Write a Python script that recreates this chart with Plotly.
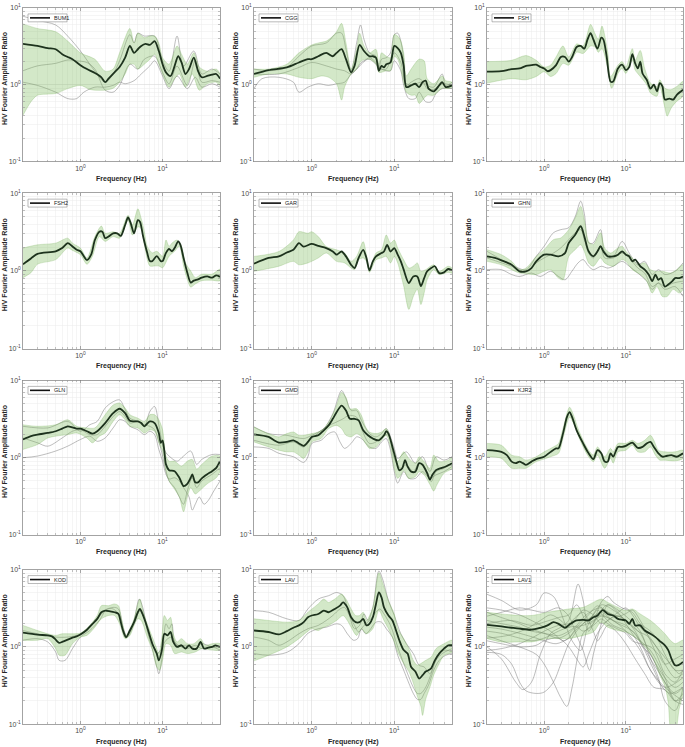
import math
import plotly.graph_objects as go

STATIONS = ["BUM1", "CGG", "FSH", "FSH2", "GAR", "GHN", "GLN", "GMD", "KJR2", "KOD", "LAV", "LAV1"]

X_MAJOR = [1, 10]
X_MAJOR_TEXT = ["10<sup>0</sup>", "10<sup>1</sup>"]
Y_MAJOR = [0.1, 1, 10]
Y_MAJOR_TEXT = ["10<sup>-1</sup>", "10<sup>0</sup>", "10<sup>1</sup>"]
X_MINOR = [0.2, 0.3, 0.4, 0.5, 0.6, 0.7, 0.8, 0.9, 2, 3, 4, 5, 6, 7, 8, 9, 20, 30, 40, 50]
Y_MINOR = [0.2, 0.3, 0.4, 0.5, 0.6, 0.7, 0.8, 0.9, 2, 3, 4, 5, 6, 7, 8, 9]

# ---------------- BUM1 ----------------
BUM1_F = [0.2,0.3,0.4,0.5,0.6,0.7,0.8,1.0,1.2,1.5,1.8,2.0,2.2,2.6,3.0,3.5,4.0,4.5,5.0,5.5,6.2,7.0,8.0,9.0,10,11,12.5,14,15.5,17,19,21,24,27,30,35,40,45,50]
BUM1_MEAN = [3.4,3.2,3.0,2.9,2.5,2.3,2.15,1.8,1.6,1.42,1.25,1.08,1.2,1.45,1.7,2.25,3.2,2.6,2.9,3.2,3.4,3.3,3.7,2.75,1.85,1.45,1.3,1.75,2.35,1.95,1.38,1.6,2.25,1.52,1.25,1.3,1.35,1.38,1.2]
BUM1_HI_F = [0.2,0.3,0.5,0.7,1.0,1.5,2.0,2.5,3,4,4.5,5,6,7,8,9,10,12,15,17,20,24,28,35,45,50]
BUM1_HI = [6.2,5.4,4.9,3.7,2.6,2.15,1.5,1.6,2.6,5.4,3.5,4.7,4.1,4.3,4.3,3.5,2.25,1.85,3.2,2.5,1.85,2.6,1.7,1.5,1.6,1.38]
BUM1_LO_F = [0.2,0.25,0.3,0.5,0.7,1.0,1.3,1.5,2.0,2.5,3,3.5,4,4.5,5,6,7,8,9,10,12,14,16,19,23,28,35,45,50]
BUM1_LO = [0.4,0.6,0.73,0.77,0.89,0.98,0.87,0.85,0.85,0.9,1.08,1.38,1.85,1.85,1.6,1.85,2.15,2.5,1.85,1.38,0.93,1.2,1.38,0.93,1.38,0.85,1.03,1.08,0.98]
BUM1_GREY_F = [
    [0.2,0.3,0.5,0.7,1.0,1.5,2,2.5,3,4,4.5,5,6,8,10,12,15,18,24,30,40,50],
    [0.2,0.3,0.5,0.7,0.9,1.2,1.5,2,2.5,3,4,5,6,8,10,12,15,20,25,30,40,50],
    [0.2,0.3,0.5,0.7,0.9,1.1,1.5,2,2.5,3,3.5,4.5,5.5,7,8,10,12,15,20,25,30,40,50],
]
BUM1_GREY_V = [
    [7.8,6.9,6.0,4.3,2.75,1.5,1.08,1.38,2.05,4.5,3.5,4.7,4.3,4.3,2.05,1.5,4.3,1.75,2.75,1.38,1.6,1.38],
    [1.52,1.76,1.9,2.1,2.05,1.95,1.6,0.85,0.8,0.98,1.85,1.6,2.15,2.35,1.45,1.03,1.75,0.98,2.05,1.08,1.13,1.08],
    [1.08,0.98,0.8,0.66,0.66,0.8,0.93,0.93,0.98,1.08,1.03,1.13,1.38,1.76,2.05,1.3,0.89,1.3,0.89,1.25,0.93,1.03,0.93],
]

# ---------------- CGG ----------------
CGG_F = [0.2,0.3,0.5,0.7,0.9,1.0,1.2,1.5,1.8,2.0,2.3,2.6,3.0,3.3,3.8,4.3,5,5.5,6,6.5,7,7.5,8,9,10,11,12,13,14,16,18,20,22,24,26,30,35,38,42,50]
CGG_MEAN = [1.38,1.55,1.68,1.95,2.15,2.15,2.35,2.6,2.35,2.6,2.9,2.15,1.45,1.76,3.3,2.75,2.35,2.35,2.25,1.52,1.76,1.68,1.85,1.95,3.2,3.0,2.6,1.76,0.93,0.98,1.03,0.93,1.08,1.13,0.89,0.82,0.98,1.08,0.93,0.98]
CGG_HI_F = [0.2,0.3,0.5,0.7,1.0,1.2,1.5,1.8,2.0,2.3,2.6,3,3.5,3.8,4.3,5,6,6.5,7,8,9,10,11,12,13,14,16,20,23,25,30,38,42,50]
CGG_HI = [1.6,1.6,1.85,2.6,3.3,3.5,3.7,4.3,4.9,6.3,3.5,1.6,2.9,4.7,3.2,2.6,2.9,1.85,2.6,2.35,2.25,4.5,4.3,3.7,2.6,1.3,1.6,2.15,2.05,1.2,1.03,1.3,1.13,1.08]
CGG_LO_F = [0.2,0.3,0.5,0.7,1.0,1.3,1.6,2.0,2.3,2.5,3,3.5,4,5,6,6.5,7,8,9,10,11,12,13,14,16,18,20,22,25,30,38,45,50]
CGG_LO = [1.25,1.38,1.38,1.25,1.2,1.3,1.25,1.03,0.63,0.93,1.38,1.6,2.05,2.15,1.85,1.45,1.45,1.52,1.52,2.35,2.15,1.6,1.08,0.8,0.73,0.73,0.57,0.63,0.73,0.73,0.9,0.89,0.93]
CGG_GREY_F = [
    [0.2,0.3,0.5,0.7,1.0,1.5,2,2.3,2.6,3,3.5,3.9,4.3,5,6,6.5,7,8,9,10,11,12,13,14,16,20,25,30,38,42,50],
    [0.2,0.4,0.7,1.0,1.5,2.0,2.5,3,3.5,4,5,6,7,8,10,12,14,18,22,25,30,38,50],
    [0.2,0.25,0.4,0.6,0.7,0.9,1.2,1.6,2.0,2.5,3,3.5,4,5,6,7,8,9,10,12,13,15,18,20,24,28,32,38,50],
]
CGG_GREY_V = [
    [1.6,1.52,1.68,2.35,3.2,3.5,4.7,4.7,2.9,1.52,3.5,6.0,3.9,2.6,2.35,1.6,2.15,2.25,2.6,4.5,4.7,3.7,2.15,0.98,1.08,1.2,0.98,0.93,1.38,0.98,1.08],
    [1.38,1.38,1.68,1.95,1.76,1.6,1.52,1.38,1.6,1.95,2.15,1.85,1.6,1.6,2.6,1.95,1.03,1.03,1.08,0.89,0.87,1.03,0.98],
    [0.89,1.2,1.25,1.08,0.8,0.93,1.03,0.98,1.03,1.08,1.38,1.6,1.85,2.25,1.95,1.6,1.52,1.52,2.05,1.52,0.98,0.66,0.66,0.8,0.6,0.6,0.77,0.89,0.89],
]

# ---------------- FSH ----------------
FSH_F = [0.2,0.3,0.4,0.5,0.6,0.7,0.8,0.9,1.0,1.1,1.2,1.4,1.6,1.8,2.0,2.2,2.5,2.8,3.1,3.4,3.7,4.0,4.5,5.0,5.3,5.8,6.5,7,8,9,10,11,12,13,14,15,16,18,20,22,24,26,28,30,34,38,42,50]
FSH_MEAN = [1.48,1.5,1.6,1.63,1.76,1.8,1.83,1.7,1.63,1.5,1.55,1.8,2.3,2.3,2.0,2.3,3.1,3.2,2.95,3.9,4.7,3.9,2.95,4.1,3.9,2.4,1.1,1.1,1.63,1.83,1.55,1.7,2.5,1.9,1.63,2.0,1.4,1.16,0.89,1.0,0.82,1.05,0.95,0.64,0.66,0.64,0.74,0.86]
FSH_HI_F = [0.2,0.4,0.6,0.8,1.0,1.2,1.4,1.7,2.0,2.5,3,3.7,4.2,4.6,5.1,6,6.5,8,9,10,12,13,15,17,20,24,26,30,35,42,50]
FSH_HI = [2.0,2.08,2.4,2.08,1.7,1.8,2.3,3.2,2.3,3.4,3.2,6.1,4.6,3.9,5.8,2.65,1.28,1.8,2.0,1.7,2.95,2.08,2.8,1.63,1.05,0.95,1.16,0.9,0.86,0.95,1.1]
FSH_LO_F = [0.2,0.4,0.6,0.8,1.0,1.2,1.4,1.7,2.0,2.5,3.0,3.7,4.2,4.6,5.1,6,6.7,8,9,10,12,13,15,18,20,24,26,30,32,36,42,50]
FSH_LO = [1.05,1.2,1.16,1.28,1.48,1.28,1.4,1.9,1.8,2.65,2.55,3.2,3.1,2.65,2.95,1.63,0.9,1.4,1.63,1.4,2.08,1.55,1.28,1.0,0.78,0.71,0.95,0.5,0.39,0.5,0.61,0.71]
FSH_GREY_F = []
FSH_GREY_V = []

# ---------------- FSH2 ----------------
FSH2_F = [0.2,0.25,0.3,0.5,0.6,0.7,0.8,0.9,1.0,1.1,1.2,1.35,1.5,1.7,1.85,2.0,2.2,2.5,2.8,3.1,3.5,3.8,4.1,4.5,5.0,5.3,5.8,6.5,7,7.5,8.5,9.5,10,11,12,13,14,15.5,16.5,18,20,22,24,27,30,35,40,45,50]
FSH2_MEAN = [1.22,1.45,1.66,1.79,1.97,2.28,2.07,1.88,1.79,1.55,1.38,1.62,2.5,3.2,3.2,2.64,2.77,3.05,3.05,2.83,3.9,4.87,4.1,3.05,4.5,4.3,2.77,1.71,1.34,1.34,1.55,1.34,1.34,1.71,1.92,1.79,1.97,2.4,2.17,1.47,0.95,0.71,0.75,0.78,0.82,0.85,0.82,0.88,0.84]
FSH2_HI_F = [0.2,0.3,0.5,0.7,0.8,1.0,1.2,1.5,1.8,2.0,2.5,3,3.8,4.3,5,5.5,6,6.5,7.5,8.5,10,11,12,13,15,17,19,22,25,30,40,50]
FSH2_HI = [1.97,2.17,2.28,2.64,2.28,1.97,1.47,2.77,3.78,3.05,3.2,3.05,5.2,3.9,6.3,4.7,3.2,2.07,1.71,1.79,1.55,2.5,2.07,2.28,2.5,2.07,1.27,1.0,0.82,0.91,0.91,1.05]
FSH2_LO_F = [0.2,0.25,0.3,0.5,0.7,0.8,1.0,1.2,1.4,1.7,2.0,2.5,3,3.8,4.3,5,5.5,6,7,8,9,10,12,14,16,18,20,22,25,30,40,50]
FSH2_LO = [0.82,0.95,1.22,1.4,1.97,1.84,1.62,1.22,1.55,2.77,2.4,2.77,2.64,4.5,2.9,3.7,3.5,2.17,1.16,1.16,1.16,1.1,1.55,1.79,2.07,1.16,0.78,0.62,0.68,0.75,0.76,0.75]
FSH2_GREY_F = []
FSH2_GREY_V = []

# ---------------- GAR ----------------
GAR_F = [0.2,0.3,0.4,0.5,0.6,0.7,0.8,1.0,1.2,1.5,1.8,2,2.3,2.6,3.0,3.3,3.7,4.2,4.6,5.0,5.5,6,7,7.5,8.2,9,10,11,12,13,15,17,19,21,23,25,28,31,35,40,45,50]
GAR_MEAN = [1.24,1.47,1.54,1.73,1.87,2.28,2.06,2.23,2.1,1.97,1.78,1.62,1.78,1.54,1.2,1.09,1.47,1.87,1.47,1.02,1.33,1.54,1.7,1.78,2.17,1.78,1.97,1.62,1.33,1.04,0.7,0.85,0.85,0.64,0.81,0.99,1.09,1.15,0.94,0.96,1.06,1.02]
GAR_HI_F = [0.2,0.4,0.6,0.7,0.9,1.0,1.2,1.5,2,2.5,3,3.5,4.2,4.6,5,6,7,8,9,10,11,13,15,17,19,21,24,30,35,45,50]
GAR_HI = [1.54,1.78,2.5,3.2,3.05,3.2,2.77,2.06,1.87,1.7,1.33,1.54,2.39,1.62,1.09,1.7,1.87,2.9,2.28,2.5,1.97,1.39,1.09,1.15,1.27,0.99,1.04,1.2,0.99,1.15,1.09]
GAR_LO_F = [0.2,0.4,0.6,0.7,0.9,1.0,1.2,1.5,2,2.5,3,3.3,3.7,4.2,4.6,5,6,7,8,9,10,11,12,13,15,17,19,21,23,25,30,35,45,50]
GAR_LO = [0.99,1.15,1.33,1.2,1.27,1.33,1.47,1.7,1.33,1.27,1.09,1.04,1.39,1.47,1.33,0.96,1.39,1.47,1.54,1.27,1.54,1.27,0.9,0.64,0.32,0.47,0.58,0.37,0.52,0.77,1.04,0.9,0.96,0.94]
GAR_GREY_F = []
GAR_GREY_V = []

# ---------------- GHN ----------------
GHN_F = [0.2,0.25,0.3,0.4,0.5,0.6,0.7,0.8,1.0,1.2,1.5,1.8,2.0,2.4,2.8,3.1,3.5,4,4.5,4.9,5.3,6,7,8,9,10,11,12,13,15,17,19,21,23,25,27,30,33,37,40,45,50]
GHN_MEAN = [1.54,1.47,1.37,1.2,0.99,0.99,1.09,1.33,1.62,1.62,1.54,1.7,2.29,2.93,3.76,2.8,1.79,1.54,1.79,2.08,1.79,1.54,1.54,1.62,1.79,1.62,1.54,1.33,1.4,1.15,1.04,0.9,0.74,0.9,0.77,0.81,0.63,0.67,0.74,0.81,0.81,0.85]
GHN_HI_F = [0.2,0.3,0.4,0.5,0.6,0.8,1.0,1.3,1.6,2,2.4,2.8,3.1,3.5,4,4.9,5.5,6.5,8,9,10,12,14,17,20,23,28,35,42,50]
GHN_HI = [1.88,1.62,1.33,1.04,1.09,1.54,1.88,2.53,2.66,3.4,4.8,6.8,4.58,2.4,2.18,3.1,1.98,1.7,1.98,2.08,1.79,1.47,1.2,1.27,1.04,0.99,0.99,0.94,1.04,1.2]
GHN_LO_F = [0.2,0.3,0.4,0.5,0.6,0.8,1.0,1.2,1.5,1.7,2,2.4,2.8,3.1,3.5,4,4.9,5.5,7,9,10,12,15,18,21,24,28,32,38,45,50]
GHN_LO = [1.33,1.2,1.04,0.94,0.92,0.9,0.99,1.04,0.81,0.77,1.54,1.88,2.18,1.79,1.27,1.15,1.47,1.27,1.15,1.4,1.33,1.04,0.9,0.74,0.52,0.63,0.47,0.47,0.58,0.52,0.58]
GHN_GREY_F = [
    [0.2,0.4,0.6,0.8,1.0,1.3,1.6,2,2.4,2.8,3.1,3.5,4,4.9,5.5,7,9,11,14,17,21,25,30,40,50],
    [0.2,0.4,0.6,0.8,1.0,1.3,1.6,2,2.4,2.8,3.1,3.5,4,4.9,5.5,7,9,11,14,17,21,25,30,40,50],
    [0.2,0.3,0.4,0.5,0.7,0.9,1.2,1.5,1.8,2.2,2.6,3,3.5,4,5,6,7,9,11,14,18,21,25,30,38,50],
]
GHN_GREY_V = [
    [1.79,1.2,1.04,1.54,2.08,3.1,3.4,3.6,5.0,7.9,5.5,2.29,2.29,3.4,1.79,1.54,2.4,1.7,1.2,1.33,0.9,1.04,0.9,0.99,1.27],
    [1.47,1.15,0.99,1.27,1.47,1.7,1.98,2.53,3.1,3.4,2.53,1.7,1.47,2.08,1.47,1.47,1.7,1.47,1.09,0.94,0.63,0.7,0.58,0.63,0.47],
    [1.04,1.04,0.9,0.85,0.94,0.85,0.99,0.85,0.77,1.0,1.27,1.4,1.15,1.04,1.15,1.09,1.15,1.33,1.15,0.94,0.74,0.58,0.7,0.63,0.7,0.74],
]

# ---------------- GLN ----------------
GLN_F = [0.2,0.25,0.3,0.4,0.5,0.6,0.7,0.8,0.9,1.0,1.2,1.4,1.6,2.0,2.5,3.0,3.5,4,4.5,5,5.5,6,7,8,9,9.5,10,10.5,11,12,14,16,18,20,22,23,25,27,30,35,40,45,50]
GLN_MEAN = [1.72,1.9,1.99,2.09,2.2,2.38,2.55,2.47,2.38,2.38,2.2,2.05,2.2,2.81,3.77,4.3,3.77,3.0,2.95,2.95,2.81,2.55,2.95,2.81,2.09,1.56,1.67,1.22,0.82,0.69,0.67,0.55,0.43,0.46,0.55,0.61,0.48,0.48,0.54,0.61,0.67,0.74,0.9]
GLN_HI_F = [0.2,0.3,0.5,0.7,0.9,1.2,1.5,2,2.5,3,3.5,4,5,6,7,8,9,10,11,12,14,17,20,23,26,30,35,40,50]
GLN_HI = [2.67,2.55,2.67,3.1,2.55,2.43,2.43,3.6,4.8,5.1,4.4,3.6,3.25,2.95,3.6,3.6,3.1,2.3,1.05,0.9,0.9,0.78,0.9,0.95,0.71,0.82,0.95,1.05,1.05]
GLN_LO_F = [0.2,0.3,0.4,0.5,0.7,0.9,1.2,1.4,1.7,2,2.5,3,3.5,4,5,6,7,8,9,10,11,12,14,16,18,20,22,25,28,35,45,50]
GLN_LO = [1.28,1.48,1.8,1.9,1.99,2.09,1.8,1.56,1.9,2.09,2.95,3.6,3.1,2.55,2.43,2.09,2.3,2.2,1.56,1.22,0.67,0.5,0.39,0.31,0.2,0.31,0.41,0.34,0.37,0.46,0.55,0.67]
GLN_GREY_F = [
    [0.2,0.4,0.7,1.0,1.3,1.6,2,2.5,3,3.5,4,5,6,7,8,9,10,11,12,15,18,22,26,30,40,50],
    [0.2,0.3,0.4,0.6,0.8,1,1.3,1.6,2,2.5,3,3.5,4,5,6,7,8,9,10,11,12,14,16,18,20,23,26,30,40,50],
    [0.2,0.3,0.5,0.7,1.0,1.3,1.6,2,2.5,3,3.5,4,5,6,7,8,9,10,11,12,14,16,18,21,23,25,28,32,36,42,50],
]
GLN_GREY_V = [
    [2.55,2.43,2.95,2.2,2.67,2.95,4.4,5.3,5.6,4.2,3.25,2.95,2.55,3.97,4.6,2.67,1.48,1.16,1.05,0.9,1.05,1.22,0.82,0.95,1.1,1.1],
    [1.8,1.56,1.41,1.8,2.2,2.3,1.99,1.99,2.55,3.4,3.97,3.4,2.81,2.95,2.67,2.55,2.3,1.63,1.05,0.67,0.5,0.41,0.31,0.25,0.37,0.55,0.41,0.5,0.61,0.74],
    [1.0,1.05,1.22,1.41,1.72,1.9,1.63,1.8,2.43,3.1,2.95,2.55,2.3,1.99,2.2,1.99,1.28,0.9,0.61,0.53,0.55,0.5,0.41,0.31,0.21,0.25,0.31,0.25,0.28,0.37,0.5],
]

# ---------------- GMD ----------------
GMD_F = [0.2,0.3,0.35,0.4,0.5,0.6,0.7,0.8,0.9,1.0,1.2,1.4,1.6,1.8,2.0,2.3,2.6,2.9,3.3,3.7,4.2,4.8,5.5,6.5,7.5,8,8.5,9.5,10.5,11.5,12.5,13.5,14.5,16,18,20,22,25,27,29,32,36,42,50]
GMD_MEAN = [2.01,1.86,1.68,1.57,1.6,1.68,1.53,1.42,1.6,1.86,1.95,2.26,2.62,3.19,3.88,4.73,4.08,3.19,3.19,3.04,2.26,1.95,1.77,1.68,1.95,2.2,2.05,1.38,0.93,0.69,0.73,0.93,0.77,0.66,0.66,0.85,0.81,0.63,0.52,0.6,0.69,0.73,0.77,0.85]
GMD_HI_F = [0.2,0.3,0.4,0.5,0.6,0.7,0.8,1.0,1.2,1.4,1.7,2.0,2.3,2.6,2.9,3.5,4,4.5,5,6,7,8,9,10,11,13,15,18,20,23,27,30,35,45,50]
GMD_HI = [2.5,2.05,1.86,2.05,2.15,1.95,1.95,2.05,2.15,2.38,3.19,4.73,7.0,6.05,4.3,4.3,3.52,2.5,2.15,2.05,2.15,2.38,1.77,1.19,0.89,1.19,0.98,0.85,1.03,0.89,0.73,1.08,0.89,0.93,1.0]
GMD_LO_F = [0.2,0.3,0.4,0.5,0.6,0.7,0.8,0.9,1.0,1.3,1.6,2,2.3,2.6,3,3.5,4,4.5,5,6,7,8,9,10,11,12,13,15,18,20,23,27,30,33,40,50]
GMD_LO = [1.6,1.38,1.25,1.19,1.19,1.08,0.98,1.19,1.6,1.77,2.38,2.62,2.38,1.95,1.86,2.05,1.86,1.53,1.32,1.38,1.68,1.95,1.38,0.73,0.54,0.6,0.69,0.54,0.57,0.66,0.6,0.45,0.37,0.45,0.63,0.73]
GMD_GREY_F = [
    [0.2,0.3,0.5,0.8,1.0,1.4,1.8,2.3,2.6,3,3.5,4,5,6,7,8,10,11,14,18,22,27,32,40,50],
    [0.2,0.4,0.6,0.8,1.0,1.5,2,2.4,2.8,3.5,4,5,6,7.5,8.5,10,12,14,17,20,25,28,32,40,50],
    [0.2,0.3,0.4,0.6,0.8,0.9,1.0,1.3,1.6,1.9,2.2,2.5,3,3.5,4,5,6,7,8,9,10,11,13,15,18,22,27,32,40,50],
]
GMD_GREY_V = [
    [2.5,2.05,1.95,1.77,1.95,2.38,3.7,7.4,5.8,4.1,4.1,3.04,2.05,1.86,2.05,2.38,1.32,0.98,1.19,0.85,1.03,0.66,1.03,0.93,1.03],
    [1.68,1.45,1.6,1.38,1.77,2.5,2.9,3.19,3.52,3.35,2.38,1.53,1.6,1.95,1.95,0.98,0.73,0.81,0.66,0.85,0.66,0.49,0.66,0.73,0.85],
    [1.38,1.32,1.14,1.03,0.87,1.03,1.53,1.68,2.05,2.15,1.6,1.32,1.53,1.86,1.77,1.38,1.32,1.6,1.77,1.25,0.66,0.47,0.66,0.54,0.54,0.66,0.54,0.6,0.66,0.77],
]

# ---------------- KJR2 ----------------
KJR2_F = [0.2,0.3,0.35,0.4,0.45,0.5,0.55,0.6,0.7,0.8,1.0,1.2,1.4,1.5,1.7,1.9,2.05,2.2,2.5,3.0,3.5,4.0,4.5,5,5.5,6,6.5,7,8,9,10,12,14,16,18,20,22,25,28,32,36,42,50]
KJR2_MEAN = [1.25,1.19,1.08,0.89,0.85,0.89,0.85,0.81,0.89,0.96,1.03,1.19,1.32,1.32,2.05,3.35,3.88,3.35,2.26,1.53,1.14,0.96,1.25,1.14,0.89,0.89,1.14,1.03,1.38,1.38,1.42,1.57,1.34,1.38,1.53,1.6,1.38,1.14,1.03,1.06,1.08,1.03,1.14]
KJR2_HI_F = [0.2,0.3,0.4,0.5,0.6,0.8,1.0,1.3,1.5,1.7,2.05,2.3,2.6,3,3.5,4,4.5,5.5,6.5,7,8,10,12,14,17,20,22,25,30,40,50]
KJR2_HI = [1.53,1.45,1.08,1.03,0.93,1.03,1.19,1.38,1.53,2.38,4.5,3.5,2.38,1.68,1.25,1.08,1.38,1.03,1.32,1.19,1.53,1.53,1.68,1.53,1.68,1.95,1.68,1.25,1.19,1.19,1.25]
KJR2_LO_F = [0.2,0.3,0.4,0.5,0.6,0.7,0.8,1.0,1.2,1.5,1.7,2.05,2.3,2.6,3,3.5,4,4.5,5.5,6.5,7,8,10,12,14,17,20,23,26,30,40,50]
KJR2_LO = [1.03,0.98,0.73,0.73,0.73,0.81,0.89,0.96,1.03,1.14,1.77,3.35,2.75,1.95,1.38,1.03,0.89,1.08,0.73,0.98,0.85,1.19,1.25,1.45,1.19,1.19,1.38,1.08,0.93,0.93,0.91,0.98]
KJR2_GREY_F = []
KJR2_GREY_V = []

# ---------------- KOD ----------------
KOD_F = [0.2,0.3,0.4,0.45,0.5,0.55,0.6,0.7,0.8,0.9,1.0,1.2,1.4,1.6,1.8,2.0,2.3,2.6,2.9,3.1,3.3,3.6,4.0,4.5,5.0,5.3,5.7,6.5,7.5,8.5,9.0,9.8,10.5,11.5,12.5,13.5,15,17,19,21,23,26,29,32,36,40,44,50]
KOD_MEAN = [1.53,1.44,1.41,1.37,1.24,1.13,1.16,1.24,1.32,1.37,1.45,1.67,1.99,2.31,2.81,2.95,2.89,2.81,2.67,2.09,1.63,1.34,1.63,2.09,2.81,3.1,2.67,1.8,1.1,0.82,0.67,0.91,1.48,1.41,1.56,1.16,1.0,1.05,0.95,1.05,0.95,0.95,1.16,0.95,0.98,1.0,1.05,1.0]
KOD_HI_F = [0.2,0.3,0.4,0.5,0.6,0.8,1.0,1.3,1.6,1.8,2.2,2.6,2.9,3.2,3.6,4,4.5,5,5.3,5.7,6.5,7.5,8.5,9,9.8,10.5,11.5,12.5,13.5,15,17,20,24,29,33,40,50]
KOD_HI = [1.9,1.63,1.48,1.41,1.48,1.48,1.51,1.9,2.55,3.42,3.42,3.6,3.42,2.2,1.41,1.72,2.31,3.6,4.16,3.1,1.99,1.34,0.95,0.82,1.34,2.55,2.2,2.42,1.48,1.16,1.28,1.1,1.1,1.28,1.05,1.1,1.1]
KOD_LO_F = [0.2,0.3,0.4,0.5,0.55,0.65,0.8,1.0,1.2,1.5,1.8,2.2,2.6,3.0,3.5,4,4.5,5,5.5,6.5,7.5,8.5,9.2,10,11,12.5,14,17,20,25,30,40,50]
KOD_LO = [1.22,1.22,1.28,0.95,0.78,0.78,1.1,1.34,1.41,1.8,2.31,2.55,2.55,1.99,1.28,1.41,1.9,2.31,2.2,1.34,0.91,0.55,0.5,0.67,1.1,1.05,0.82,0.86,0.82,0.86,0.95,0.91,0.91]
KOD_GREY_F = [
    [0.2,0.3,0.4,0.5,0.55,0.65,0.8,1.0,1.3,1.7,2.1,2.5,3,3.5,4,4.5,5.2,5.8,6.5,7.5,8.5,9,10,11,12,13,14,17,20,25,30,40,50],
    [0.2,0.3,0.5,0.7,0.9,1.2,1.6,2,2.5,2.9,3.3,3.7,4.5,5.3,6,7,8.5,9.5,11,13,15,20,25,30,40,50],
]
KOD_GREY_V = [
    [1.22,1.28,1.16,0.86,0.67,0.67,0.95,1.34,1.63,2.2,3.1,3.1,2.55,1.34,1.56,2.2,4.16,3.1,1.63,0.95,0.55,0.45,0.82,1.99,1.72,1.99,1.16,1.0,0.95,1.05,0.95,1.0,0.91],
    [1.63,1.48,1.34,1.34,1.41,1.63,2.31,2.95,3.25,3.1,1.8,1.34,1.99,2.95,2.31,1.34,0.82,0.91,1.22,1.34,1.05,1.05,0.95,1.1,1.0,1.0],
]

# ---------------- LAV ----------------
LAV_F = [0.2,0.3,0.4,0.5,0.6,0.7,0.8,0.9,1.0,1.2,1.4,1.6,1.9,2.2,2.4,2.7,3.0,3.4,3.8,4.2,4.6,5.0,5.5,6.0,6.5,7.0,7.5,8.5,9.5,10.5,11.5,13,14.5,16,18,20,22,24,26,28,31,35,40,45,50]
LAV_MEAN = [1.63,1.56,1.45,1.6,1.77,1.9,2.09,2.42,2.55,2.67,2.95,2.81,3.1,3.42,3.77,3.25,2.42,2.09,2.09,2.31,1.9,1.99,2.42,3.6,5.06,4.38,3.25,2.55,2.2,1.63,1.22,0.91,0.82,0.55,0.48,0.39,0.43,0.48,0.5,0.53,0.67,0.82,0.95,1.05,1.05]
LAV_HI_F = [0.2,0.3,0.5,0.7,0.9,1.2,1.4,1.6,1.9,2.3,2.6,3,3.4,3.8,4.2,4.6,5.5,6.5,7.3,8.5,10,11,13,15,17,19,21,24,28,32,40,50]
LAV_HI = [2.31,2.2,2.09,2.2,2.81,3.6,4.16,3.77,4.16,4.82,4.16,3.1,2.55,2.55,2.81,2.2,3.25,9.1,6.5,3.97,2.67,1.72,1.28,0.95,0.67,0.58,0.61,0.67,0.74,0.95,1.1,1.22]
LAV_LO_F = [0.2,0.3,0.5,0.7,0.9,1.0,1.2,1.4,1.6,2,2.4,2.7,3,3.5,4,4.6,5.5,6.5,7.5,8.5,10,11,13,15,17,19,21,22,24,27,30,35,40,50]
LAV_LO = [0.66,0.78,1.0,1.28,1.6,1.72,1.63,1.8,1.9,2.2,2.55,2.2,1.8,1.41,1.72,1.48,1.72,2.95,2.2,1.72,1.16,0.86,0.61,0.48,0.34,0.23,0.17,0.13,0.21,0.3,0.43,0.61,0.78,0.86]
LAV_GREY_F = [
    [0.2,0.3,0.5,0.7,0.9,1.2,1.6,2,2.4,2.8,3.3,3.8,4.3,4.8,5.5,6.5,7.2,8.5,10,12,14,17,20,23,27,30,35,42,50],
    [0.2,0.3,0.4,0.5,0.7,0.9,1.2,1.5,1.8,2.2,2.5,2.8,3.3,3.7,4.3,5,6,6.7,7.5,9,11,13,15,17,19,21,24,28,32,38,50],
    [0.2,0.3,0.5,0.7,0.9,1.2,1.5,2,2.3,2.7,3.2,3.6,4,4.5,5,6,7,8,9.5,11,13,15,17,19,21,23,26,30,35,42,50],
]
LAV_GREY_V = [
    [2.95,2.81,2.31,2.2,3.1,4.16,4.6,5.06,4.6,2.81,1.72,1.9,2.67,2.2,3.25,9.6,7.6,3.97,2.55,1.48,1.1,0.82,0.58,0.55,0.45,0.58,0.82,0.91,0.86],
    [1.34,1.22,1.05,1.16,1.48,1.72,1.9,2.2,2.55,3.1,3.25,2.67,1.9,1.56,1.9,2.2,2.81,3.1,2.67,1.9,1.0,0.61,0.41,0.3,0.25,0.25,0.3,0.45,0.67,0.82,0.95],
    [0.82,0.78,0.85,1.1,1.5,1.72,1.8,1.99,1.9,1.48,1.22,1.28,1.72,1.48,1.63,2.09,2.09,1.72,1.34,0.78,0.5,0.34,0.25,0.21,0.21,0.25,0.32,0.5,0.67,0.78,0.82],
]

# ---------------- LAV1 ----------------
LAV1_F = [0.2,0.3,0.4,0.5,0.7,0.9,1.1,1.3,1.5,1.8,2.1,2.5,3,3.5,4,4.5,5.2,6,7,8,9,10,11,12,13,15,17,20,23,26,30,33,36,40,44,50]
LAV1_MEAN = [1.93,1.84,1.77,1.72,1.67,1.77,1.9,2.09,1.99,1.77,1.99,2.2,2.24,2.2,2.42,2.55,3.0,2.67,2.55,2.31,2.24,2.2,1.99,2.31,1.9,1.9,1.63,1.48,1.34,1.19,1.05,0.91,0.71,0.58,0.58,0.64]
LAV1_HI_F = [0.2,0.3,0.5,0.7,0.9,1.1,1.5,2,3,4,5,6,8,10,12,15,20,25,30,35,40,45,50]
LAV1_HI = [2.81,2.67,2.55,2.55,2.67,2.81,2.95,3.1,3.25,3.77,4.16,3.77,3.25,2.95,3.1,2.67,2.2,1.8,1.48,1.22,1.1,1.16,1.22]
LAV1_LO_F = [0.2,0.3,0.5,0.7,0.9,1.1,1.5,2,3,4,5,6,8,10,12,15,20,23,26,30,33,36,40,45,50]
LAV1_LO = [1.28,1.16,1.16,1.16,1.22,1.28,1.28,1.28,1.41,1.56,2.09,1.8,1.63,1.56,1.41,1.16,0.82,0.61,0.43,0.31,0.19,0.08,0.08,0.16,0.25]
LAV1_GREY_F = [
    [0.2,0.3,0.5,0.8,1.0,1.3,1.8,2.2,2.8,3.5,5,7,10,15,20,30,40,50],
    [0.2,0.3,0.45,0.55,0.7,0.9,1.2,1.6,2,2.6,3,3.5,5,7,10,15,20,30,50],
    [0.2,0.3,0.4,0.5,0.6,0.8,1.0,1.3,1.6,2,2.5,3,4,5,7,10,15,20,30,40,50],
    [0.2,0.3,0.5,0.8,1.0,1.3,1.6,1.9,2.2,2.6,3,4,5,6,8,10,15,20,30,50],
    [0.2,0.3,0.5,0.7,1,1.5,2,2.5,3,3.6,4,5,6,8,10,15,20,25,30,40,50],
    [0.2,0.4,0.7,1,1.5,2,2.5,3,3.5,4,5,6,7,9,12,15,20,25,30,40,50],
    [0.2,0.3,0.5,0.7,1,1.5,2,3,4,5,6,8,10,13,16,20,25,30,40,50],
    [0.2,0.3,0.5,0.7,1,1.5,2,2.5,3,4,5,6,8,10,12,15,20,25,30,40,50],
    [0.2,0.3,0.5,0.8,1,1.5,2,2.5,3,3.5,4.5,6,8,10,13,17,22,28,35,50],
    [0.2,0.3,0.5,0.7,1,1.3,1.7,2,2.5,3,3.5,4.5,5.5,7,9,11,14,18,22,28,35,45,50],
    [0.2,0.3,0.5,0.8,1,1.4,2,2.5,3,4,4.5,5.5,7,9,12,15,20,25,30,40,50],
    [0.2,0.35,0.6,0.9,1.2,1.6,2,2.5,3,4,5,6,8,10,12,15,20,25,30,40,50],
    [0.2,0.3,0.5,0.8,1,1.5,2,2.5,3,3.5,4,4.5,5,6,8,10,13,17,22,30,40,50],
    [0.2,0.3,0.5,0.7,1,1.5,2,2.5,3,4,5,6,8,10,12,15,20,25,30,40,50],
]
LAV1_GREY_V = [
    [4.8,4.0,3.0,3.5,5.0,4.5,2.0,1.2,0.9,2.0,3.5,3.0,2.2,1.5,0.8,0.4,0.3,0.35],
    [1.0,0.7,0.35,0.28,0.35,0.8,1.5,1.8,2.2,6.5,4.0,2.0,2.5,2.2,1.6,0.9,0.5,0.3,0.2],
    [0.85,0.8,0.6,0.35,0.27,0.25,0.26,0.35,0.6,1.1,1.6,2.0,2.5,2.8,2.2,1.9,1.2,0.7,0.35,0.2,0.25],
    [1.4,1.2,1.0,0.8,0.6,0.35,0.22,0.17,0.3,0.8,1.5,2.0,3.0,3.5,2.8,2.0,1.0,0.5,0.3,0.4],
    [2.5,2.8,3.2,3.0,2.8,3.2,2.5,1.4,0.9,0.5,0.8,2.0,3.5,3.0,2.5,1.6,0.7,0.4,0.2,0.15,0.3],
    [2.0,2.2,1.9,2.1,2.4,2.6,3.5,2.5,1.6,2.0,3.8,4.5,3.8,3.2,2.8,2.0,1.6,1.2,0.8,0.5,0.5],
    [1.6,1.5,1.3,1.2,1.3,1.6,1.8,1.9,2.2,2.6,2.4,2.0,1.8,1.5,1.0,0.8,0.5,0.35,0.25,0.3],
    [2.2,2.0,1.8,1.6,1.5,1.4,1.6,1.9,2.4,3.0,3.2,2.8,2.5,2.7,3.0,2.2,1.2,0.7,0.45,0.35,0.5],
    [1.2,1.1,1.0,1.05,1.2,1.3,1.0,0.7,0.55,0.8,1.5,2.2,2.5,2.2,1.6,0.9,0.5,0.3,0.25,0.3],
    [3.2,3.0,2.6,2.2,1.8,1.5,1.2,1.3,1.8,2.2,2.6,3.4,3.0,2.6,2.4,2.0,1.6,1.4,1.1,0.8,0.6,0.45,0.5],
    [1.8,1.7,1.5,1.3,1.2,1.1,1.3,1.7,2.0,2.6,3.0,2.4,1.9,1.7,1.4,1.2,0.9,0.6,0.4,0.2,0.18],
    [1.3,1.4,1.7,2.2,2.6,2.2,1.8,2.4,3.0,2.6,2.0,2.2,2.8,3.2,2.6,1.8,1.3,0.9,0.6,0.4,0.45],
    [0.9,0.95,1.1,1.4,1.6,1.9,2.0,2.5,2.8,2.2,1.6,1.2,1.4,1.9,1.5,1.1,0.7,0.45,0.3,0.28,0.2,0.22],
    [2.8,2.4,2.0,1.7,1.5,1.3,1.5,1.8,1.6,1.9,2.3,2.0,1.7,1.5,1.2,1.1,1.0,0.8,0.6,0.7,0.8],
]

PANELS = {
    "BUM1": (BUM1_F, BUM1_MEAN, BUM1_HI_F, BUM1_HI, BUM1_LO_F, BUM1_LO, BUM1_GREY_F, BUM1_GREY_V),
    "CGG": (CGG_F, CGG_MEAN, CGG_HI_F, CGG_HI, CGG_LO_F, CGG_LO, CGG_GREY_F, CGG_GREY_V),
    "FSH": (FSH_F, FSH_MEAN, FSH_HI_F, FSH_HI, FSH_LO_F, FSH_LO, FSH_GREY_F, FSH_GREY_V),
    "FSH2": (FSH2_F, FSH2_MEAN, FSH2_HI_F, FSH2_HI, FSH2_LO_F, FSH2_LO, FSH2_GREY_F, FSH2_GREY_V),
    "GAR": (GAR_F, GAR_MEAN, GAR_HI_F, GAR_HI, GAR_LO_F, GAR_LO, GAR_GREY_F, GAR_GREY_V),
    "GHN": (GHN_F, GHN_MEAN, GHN_HI_F, GHN_HI, GHN_LO_F, GHN_LO, GHN_GREY_F, GHN_GREY_V),
    "GLN": (GLN_F, GLN_MEAN, GLN_HI_F, GLN_HI, GLN_LO_F, GLN_LO, GLN_GREY_F, GLN_GREY_V),
    "GMD": (GMD_F, GMD_MEAN, GMD_HI_F, GMD_HI, GMD_LO_F, GMD_LO, GMD_GREY_F, GMD_GREY_V),
    "KJR2": (KJR2_F, KJR2_MEAN, KJR2_HI_F, KJR2_HI, KJR2_LO_F, KJR2_LO, KJR2_GREY_F, KJR2_GREY_V),
    "KOD": (KOD_F, KOD_MEAN, KOD_HI_F, KOD_HI, KOD_LO_F, KOD_LO, KOD_GREY_F, KOD_GREY_V),
    "LAV": (LAV_F, LAV_MEAN, LAV_HI_F, LAV_HI, LAV_LO_F, LAV_LO, LAV_GREY_F, LAV_GREY_V),
    "LAV1": (LAV1_F, LAV1_MEAN, LAV1_HI_F, LAV1_HI, LAV1_LO_F, LAV1_LO, LAV1_GREY_F, LAV1_GREY_V),
}

# ---------------- layout geometry (pixels in a 685x747 figure) ----------------
W, H = 685, 747
COL_PX = [(23, 220), (254, 452), (487, 683)]
ROW_PX = [(4, 159), (191, 348), (380, 536), (571, 727)]

FONT = "Liberation Sans, Arial, Helvetica, sans-serif"
MEAN_COLOR = "#1d321d"
BAND_FILL = "rgba(125,188,95,0.34)"
BAND_EDGE = "rgba(110,170,80,0.5)"
GREY_COLOR = "rgba(120,120,120,0.7)"

fig = go.Figure()
shapes = []
annotations = []
layout_axes = {}

for i, name in enumerate(STATIONS):
    n = i + 1
    r, c = divmod(i, 3)
    xs = "" if n == 1 else str(n)
    xref, yref = "x" + xs, "y" + xs
    f, mean, hi_f, hi, lo_f, lo, gf, gv = PANELS[name]

    # individual grey curves
    for gx, gy in zip(gf, gv):
        fig.add_trace(go.Scatter(x=gx, y=gy, mode="lines", xaxis=xref, yaxis=yref,
                                 line=dict(color=GREY_COLOR, width=0.7, shape="spline", smoothing=0.9),
                                 showlegend=False, hoverinfo="skip"))
    # +/- band
    band_x = list(hi_f) + list(reversed(lo_f))
    band_y = list(hi) + list(reversed(lo))
    fig.add_trace(go.Scatter(x=band_x, y=band_y, mode="lines", fill="toself", fillcolor=BAND_FILL,
                             xaxis=xref, yaxis=yref,
                             line=dict(color=BAND_EDGE, width=0.5, shape="spline", smoothing=0.8),
                             showlegend=False, hoverinfo="skip"))
    # mean curve
    fig.add_trace(go.Scatter(x=f, y=mean, mode="lines", xaxis=xref, yaxis=yref, name=name,
                             line=dict(color=MEAN_COLOR, width=1.8, shape="spline", smoothing=0.8),
                             showlegend=False))

    x0, x1 = COL_PX[c]
    y0, y1 = ROW_PX[r]
    common = dict(
        type="log", showgrid=True, gridcolor="#d9d9d9", gridwidth=0.6,
        ticks="inside", ticklen=3, tickcolor="#777777", tickwidth=0.6,
        showline=True, linecolor="#8c8c8c", linewidth=0.8, mirror="ticks",
        zeroline=False, tickfont=dict(family=FONT, size=7, color="#4a4a4a"),
        fixedrange=True,
    )
    layout_axes["xaxis" + xs] = dict(
        common, domain=[x0 / W, x1 / W], anchor=yref,
        range=[math.log10(0.2), math.log10(50)],
        tickmode="array", tickvals=X_MAJOR, ticktext=X_MAJOR_TEXT,
        minor=dict(tickmode="array", tickvals=X_MINOR, showgrid=True, gridcolor="#ebebeb",
                   gridwidth=0.5, ticks="inside", ticklen=2, tickcolor="#999999"),
    )
    layout_axes["yaxis" + xs] = dict(
        common, domain=[1 - y1 / H, 1 - y0 / H], anchor=xref,
        range=[-1, 1],
        tickmode="array", tickvals=Y_MAJOR, ticktext=Y_MAJOR_TEXT,
        minor=dict(tickmode="array", tickvals=Y_MINOR, showgrid=True, gridcolor="#ebebeb",
                   gridwidth=0.5, ticks="inside", ticklen=2, tickcolor="#999999"),
    )

    xd, yd = xref + " domain", yref + " domain"
    ph = y1 - y0
    pw = x1 - x0
    # axis titles
    annotations.append(dict(text="<b>Frequency (Hz)</b>", xref=xd, yref=yd, x=0.5, y=-17.5 / ph,
                            xanchor="center", yanchor="middle", showarrow=False,
                            font=dict(family=FONT, size=7, color="#262626")))
    annotations.append(dict(text="<b>H/V Fourier Amplitude Ratio</b>", xref=xd, yref=yd,
                            x=-18.5 / pw, y=0.54, textangle=-90, xanchor="center", yanchor="middle",
                            showarrow=False, font=dict(family=FONT, size=7, color="#262626")))
    # legend box
    shapes.append(dict(type="rect", xref=xd, yref=yd, x0=5 / pw, x1=44 / pw,
                       y0=1 - 14 / ph, y1=1 - 6 / ph, line=dict(color="#8c8c8c", width=0.6),
                       fillcolor="white", layer="above"))
    shapes.append(dict(type="line", xref=xd, yref=yd, x0=7 / pw, x1=27 / pw,
                       y0=1 - 10 / ph, y1=1 - 10 / ph, line=dict(color="#111111", width=1.6),
                       layer="above"))
    annotations.append(dict(text=name, xref=xd, yref=yd, x=29 / pw, y=1 - 10 / ph,
                            xanchor="left", yanchor="middle", showarrow=False,
                            font=dict(family=FONT, size=5.5, color="#222222")))

fig.update_layout(
    width=W, height=H, autosize=False,
    margin=dict(l=0, r=0, t=0, b=0, pad=0),
    paper_bgcolor="white", plot_bgcolor="white",
    showlegend=False,
    font=dict(family=FONT, size=7, color="#333333"),
    shapes=shapes, annotations=annotations,
    **layout_axes,
)

# remove the browser's default 8px page margin so the figure sits at the window origin
fig.write_html("out.html",
               config={"displayModeBar": False, "staticPlot": True},
               post_script="document.body.style.margin='0px';document.body.style.overflow='hidden';")
